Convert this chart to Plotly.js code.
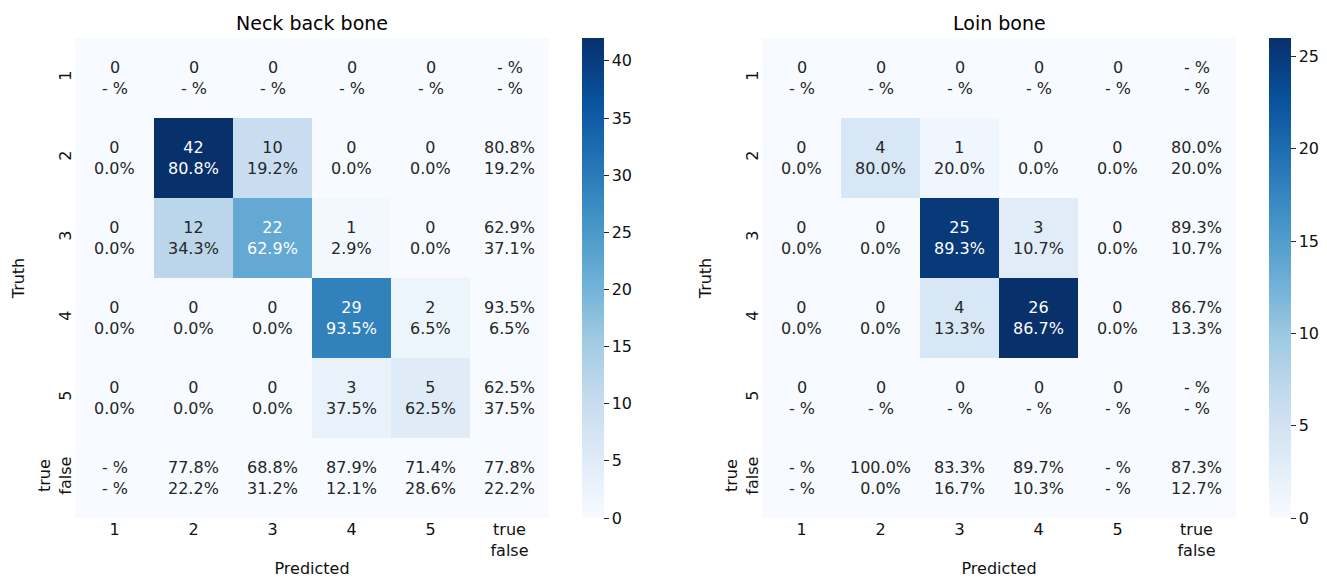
<!DOCTYPE html>
<html>
<head>
<meta charset="utf-8">
<script src="https://cdn.plot.ly/plotly-3.0.1.min.js"></script>
<style>html,body{margin:0;padding:0;background:#fff;}#chart{width:1327px;height:579px;}</style>
</head>
<body>
<div id="chart"></div>
<script>
// ---- data ----
const tickLabels = ['1', '2', '3', '4', '5', 'true<br>false'];

const neckTitle = 'Neck back bone';
const neckCounts = [
  [0, 0, 0, 0, 0],
  [0, 42, 10, 0, 0],
  [0, 12, 22, 1, 0],
  [0, 0, 0, 29, 2],
  [0, 0, 0, 3, 5]
];
const neckRowPct = [
  ['- %', '- %', '- %', '- %', '- %'],
  ['0.0%', '80.8%', '19.2%', '0.0%', '0.0%'],
  ['0.0%', '34.3%', '62.9%', '2.9%', '0.0%'],
  ['0.0%', '0.0%', '0.0%', '93.5%', '6.5%'],
  ['0.0%', '0.0%', '0.0%', '37.5%', '62.5%']
];
const neckRecall = [['- %', '- %'], ['80.8%', '19.2%'], ['62.9%', '37.1%'], ['93.5%', '6.5%'], ['62.5%', '37.5%']];
const neckPrecision = [['- %', '- %'], ['77.8%', '22.2%'], ['68.8%', '31.2%'], ['87.9%', '12.1%'], ['71.4%', '28.6%']];
const neckOverall = ['77.8%', '22.2%'];

const loinTitle = 'Loin bone';
const loinCounts = [
  [0, 0, 0, 0, 0],
  [0, 4, 1, 0, 0],
  [0, 0, 25, 3, 0],
  [0, 0, 4, 26, 0],
  [0, 0, 0, 0, 0]
];
const loinRowPct = [
  ['- %', '- %', '- %', '- %', '- %'],
  ['0.0%', '80.0%', '20.0%', '0.0%', '0.0%'],
  ['0.0%', '0.0%', '89.3%', '10.7%', '0.0%'],
  ['0.0%', '0.0%', '13.3%', '86.7%', '0.0%'],
  ['- %', '- %', '- %', '- %', '- %']
];
const loinRecall = [['- %', '- %'], ['80.0%', '20.0%'], ['89.3%', '10.7%'], ['86.7%', '13.3%'], ['- %', '- %']];
const loinPrecision = [['- %', '- %'], ['100.0%', '0.0%'], ['83.3%', '16.7%'], ['89.7%', '10.3%'], ['- %', '- %']];
const loinOverall = ['87.3%', '12.7%'];

// ---- style ----
const FONT = 'DejaVu Sans, Liberation Sans, sans-serif';
const blues = [
  [0.0, '#f7fbff'], [0.125, '#deebf7'], [0.25, '#c6dbef'], [0.375, '#9ecae1'],
  [0.5, '#6baed6'], [0.625, '#4292c6'], [0.75, '#2171b5'], [0.875, '#08519c'], [1.0, '#08306b']
];
const W = 1327, H = 579;
const plotTop = 38, plotBottom = 518;
const yDom = [1 - plotBottom / H, 1 - plotTop / H];

function buildPanel(idx, counts, rowPct, recall, precision, overall, title, xPix, cbX) {
  const n = tickLabels.length;
  const idxs = tickLabels.map((_, i) => i);
  const z = [];
  for (let r = 0; r < n; r++) {
    const row = [];
    for (let c = 0; c < n; c++) {
      row.push(r < counts.length && c < counts[0].length ? counts[r][c] : 0);
    }
    z.push(row);
  }
  const zmax = Math.max(...counts.flat());
  const sfx = idx === 1 ? '' : String(idx);
  const trace = {
    type: 'heatmap',
    z: z, x: idxs, y: idxs,
    xaxis: 'x' + sfx, yaxis: 'y' + sfx,
    colorscale: blues, zmin: 0, zmax: zmax,
    hoverinfo: 'skip',
    colorbar: {
      x: cbX / W, xanchor: 'left', xpad: 0, ypad: 0,
      y: yDom[0], yanchor: 'bottom',
      len: plotBottom - plotTop, lenmode: 'pixels',
      thickness: 22, thicknessmode: 'pixels',
      outlinewidth: 0,
      ticks: 'outside', ticklen: 5, tickwidth: 1, tickcolor: '#262626',
      tick0: 0, dtick: 5,
      tickfont: {family: FONT, size: 16, color: '#111'}
    }
  };
  const ann = [];
  const cellText = (r, c) => {
    if (r < counts.length && c < counts[0].length) return counts[r][c] + '<br>' + rowPct[r][c];
    if (r < counts.length) return recall[r][0] + '<br>' + recall[r][1];
    if (c < counts[0].length) return precision[c][0] + '<br>' + precision[c][1];
    return overall[0] + '<br>' + overall[1];
  };
  for (let r = 0; r < n; r++) {
    for (let c = 0; c < n; c++) {
      const light = z[r][c] / zmax > 0.4;
      ann.push({
        xref: 'x' + sfx, yref: 'y' + sfx, x: c, y: r,
        text: cellText(r, c), showarrow: false,
        font: {family: FONT, size: 16, color: light ? '#ffffff' : '#262626'},
        align: 'center'
      });
    }
  }
  ann.push({
    xref: 'paper', yref: 'paper', x: (xPix[0] + xPix[1]) / 2 / W, y: 1 - 23 / H,
    xanchor: 'center', yanchor: 'middle', showarrow: false,
    text: title, font: {family: FONT, size: 19, color: '#000'}
  });
  const xaxis = {
    domain: [xPix[0] / W, xPix[1] / W], anchor: 'y' + sfx,
    tickmode: 'array', tickvals: idxs, ticktext: tickLabels,
    showgrid: false, zeroline: false, showline: false, ticks: '',
    tickfont: {family: FONT, size: 16, color: '#111'},
    title: {text: 'Predicted', font: {family: FONT, size: 16, color: '#111'}, standoff: 4},
    fixedrange: true
  };
  const yaxis = {
    domain: yDom, anchor: 'x' + sfx, autorange: 'reversed',
    tickmode: 'array', tickvals: idxs, ticktext: tickLabels, tickangle: -90,
    showgrid: false, zeroline: false, showline: false, ticks: '',
    tickfont: {family: FONT, size: 16, color: '#111'},
    title: {text: 'Truth', font: {family: FONT, size: 16, color: '#111'}, standoff: 6},
    fixedrange: true
  };
  return {trace, ann, xaxis, yaxis};
}

const p1 = buildPanel(1, neckCounts, neckRowPct, neckRecall, neckPrecision, neckOverall, neckTitle, [75, 549], 582);
const p2 = buildPanel(2, loinCounts, loinRowPct, loinRecall, loinPrecision, loinOverall, loinTitle, [762, 1236], 1269);

const layout = {
  width: W, height: H,
  margin: {l: 0, r: 0, t: 0, b: 0},
  paper_bgcolor: '#ffffff', plot_bgcolor: '#ffffff',
  showlegend: false,
  font: {family: FONT, color: '#111'},
  xaxis: p1.xaxis, yaxis: p1.yaxis,
  xaxis2: p2.xaxis, yaxis2: p2.yaxis,
  annotations: p1.ann.concat(p2.ann)
};

Plotly.newPlot('chart', [p1.trace, p2.trace], layout, {displayModeBar: false, staticPlot: true});
</script>
</body>
</html>
